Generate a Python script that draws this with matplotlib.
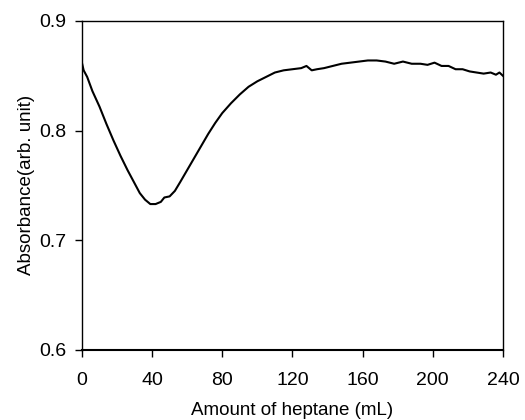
import numpy as np
import matplotlib
matplotlib.use("Agg")
import matplotlib.pyplot as plt

# values
heptane_ml = [0, 1, 3, 6, 10, 14, 18, 22, 26, 30, 33, 36, 39, 42, 45, 47, 50, 53,
              56, 60, 64, 68, 72, 76, 80, 85, 90, 95, 100, 105, 110, 115, 120,
              125, 128, 131, 134, 138, 143, 148, 153, 158, 163, 168, 173, 178,
              183, 188, 193, 197, 201, 205, 209, 213, 217, 221, 225, 229, 233,
              236, 238, 240]
absorbance = [0.862, 0.855, 0.849, 0.836, 0.822, 0.806, 0.791, 0.777, 0.764, 0.752,
              0.743, 0.737, 0.733, 0.733, 0.735, 0.739, 0.740, 0.745,
              0.753, 0.764, 0.775, 0.786, 0.797, 0.807, 0.816, 0.825, 0.833, 0.840,
              0.845, 0.849, 0.853, 0.855, 0.856,
              0.857, 0.859, 0.855, 0.856, 0.857, 0.859, 0.861, 0.862, 0.863, 0.864,
              0.864, 0.863, 0.861, 0.863, 0.861, 0.861, 0.860, 0.862, 0.859, 0.859,
              0.856, 0.856, 0.854, 0.853, 0.852, 0.853, 0.851, 0.853, 0.850]

x_ticks = [0, 40, 80, 120, 160, 200, 240]
y_ticks = [0.6, 0.7, 0.8, 0.9]

plt.rcParams['font.family'] = ['Liberation Sans', 'DejaVu Sans']

fig = plt.figure(figsize=(5.25, 4.2), dpi=100)
ax = fig.add_axes([0.156, 0.167, 0.802, 0.783])
ax.plot(heptane_ml, absorbance, color='black', lw=1.5)

ax.set_xlim(0, 240)
ax.set_ylim(0.6, 0.9)
ax.set_xticks(x_ticks)
ax.set_yticks(y_ticks)
ax.set_yticklabels(['%.1f' % v for v in y_ticks])
ax.tick_params(direction='out', length=5, width=1, labelsize=14)
ax.tick_params(axis='x', pad=11)
ax.tick_params(axis='y', pad=6)
for s in ax.spines.values():
    s.set_linewidth(1)
ax.spines['bottom'].set_linewidth(1.5)

ax.set_xlabel('Amount of heptane (mL)', fontsize=13.5, labelpad=9)
ax.set_ylabel('Absorbance(arb. unit)', fontsize=13.5, labelpad=3)

fig.savefig('out.png', dpi=100)
